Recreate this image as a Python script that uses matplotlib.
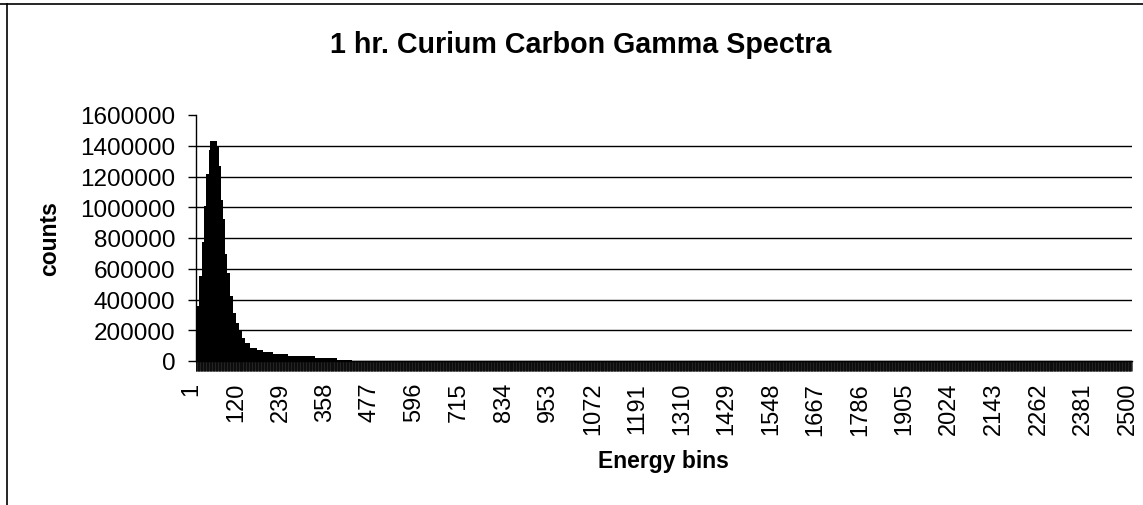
import numpy as np
import matplotlib.pyplot as plt
from matplotlib.lines import Line2D
from matplotlib.transforms import ScaledTranslation

plt.rcParams['font.family'] = ['Liberation Sans', 'DejaVu Sans']

# spectrum: first bin of each step and its count
seg_start = [1, 11, 18, 23, 29, 36, 40, 58, 64, 69, 74, 80, 86, 94, 102, 110,
             116, 125, 134, 147, 165, 182, 209, 249, 320, 378, 420]
seg_counts = [358000, 554000, 771000, 1010000, 1216000, 1370000, 1433000,
              1400000, 1270000, 1050000, 923000, 695000, 575000, 423000,
              315000, 250000, 195000, 152000, 115000, 87000, 72000, 59000,
              48000, 33000, 20000, 6000, 0]
n_bins = 2500
x_labels = [1, 120, 239, 358, 477, 596, 715, 834, 953, 1072, 1191, 1310, 1429,
            1548, 1667, 1786, 1905, 2024, 2143, 2262, 2381, 2500]
y_ticks = [0, 200000, 400000, 600000, 800000, 1000000, 1200000, 1400000, 1600000]

bins = np.arange(1, n_bins + 1)
counts = np.repeat(seg_counts, np.diff(seg_start + [n_bins + 1]))

W, H = 1143, 506
fig = plt.figure(figsize=(W / 100, H / 100), dpi=100)
ax = fig.add_axes([195.5 / W, 1 - 362 / H, (1131.7 - 195.5) / W, (362 - 116) / H])

ax.bar(bins, counts, width=1.0, color='black', linewidth=0, zorder=3)

ax.set_xlim(0.5, n_bins + 0.5)
ax.set_ylim(0, 1600000)
ax.set_yticks(y_ticks)
ax.set_yticklabels([str(v) for v in y_ticks])
ax.set_xticks(x_labels)
ax.set_xticklabels([str(v) for v in x_labels], rotation=90)
ax.set_xticks(bins, minor=True)

ax.yaxis.grid(True, color='black', linewidth=1.0, zorder=1)
ax.yaxis.get_gridlines()[-1].set_visible(False)
ax.set_axisbelow(True)

for s in ['top', 'right']:
    ax.spines[s].set_visible(False)
ax.spines['left'].set_linewidth(1.0)
ax.spines['bottom'].set_linewidth(1.0)

ax.tick_params(axis='y', direction='out', length=6, width=1.0, pad=8.5, labelsize=17.5)
ax.tick_params(axis='x', which='major', direction='out', length=7, width=0.45, pad=8, labelsize=17)
ax.tick_params(axis='x', which='minor', direction='out', length=7, width=0.45)

# category labels sit a little left of their bins in the original
shift = ScaledTranslation(-4 / 100, 0, fig.dpi_scale_trans)
for lab in ax.get_xticklabels():
    lab.set_transform(lab.get_transform() + shift)

fig.text(581 / W, 1 - 45 / H, '1 hr. Curium Carbon Gamma Spectra', ha='center', va='center',
         fontsize=20.6, fontweight='bold')
fig.text(50 / W, 1 - 239 / H, 'counts', rotation=90, ha='center', va='center',
         fontsize=16.5, fontweight='bold')
fig.text(663 / W, 1 - 462 / H, 'Energy bins', ha='center', va='center',
         fontsize=16.5, fontweight='bold')

# chart area border (left and top edges show in the scan)
fig.add_artist(Line2D([7 / W, 7 / W], [0, 1 - 5 / H], transform=fig.transFigure, color='black', linewidth=1.2))
fig.add_artist(Line2D([0, 1], [1 - 5 / H, 1 - 5 / H], transform=fig.transFigure, color='black', linewidth=1.2))

fig.savefig('out.png', dpi=100)
